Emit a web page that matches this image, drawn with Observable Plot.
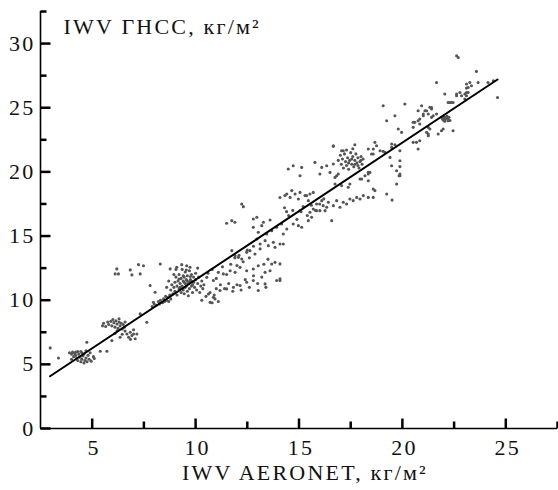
<!DOCTYPE html>
<html><head><meta charset="utf-8">
<script src="https://cdn.jsdelivr.net/npm/d3@7"></script>
<script src="https://cdn.jsdelivr.net/npm/@observablehq/plot@0.6"></script>
<style>body{margin:0;background:#fff} #chart svg{display:block} #chart text{letter-spacing:2.2px}</style>
</head><body><div id="chart"></div><script>
const yTitle = "IWV ГНСС, кг/м²";
const xTitle = "IWV AERONET, кг/м²";
const xMajor = [5, 10, 15, 20, 25];
const xMinor = [7.5, 12.5, 17.5, 22.5, 27.5];
const yMajor = [0, 5, 10, 15, 20, 25, 30];
const yMinor = [2.5, 7.5, 12.5, 17.5, 22.5, 27.5, 32.5];
const fitLine = [[2.96, 4.07], [24.6, 27.2]];

const g1 = [[2.97,6.28],[3.37,5.5],[3.9,5.9],[4.0,5.8],[4.05,5.95],[4.1,5.6],[4.15,5.85],[4.2,5.7],[4.25,5.5],[4.3,6.0],[4.3,5.3],[4.35,5.8],[4.4,5.55],[4.45,5.2],[4.5,5.9],[4.5,5.4],[4.55,5.65],[4.6,5.1],[4.6,5.8],[4.65,5.3],[4.7,5.5],[4.7,6.05],[4.75,5.2],[4.8,5.7],[4.85,5.4],[4.9,5.9],[4.95,5.25],[5.06,5.6],[5.1,5.45],[4.0,5.4],[4.74,6.72],[5.39,6.02],[5.71,6.02],[4.45,6.0],[4.2,5.95]];

const g2 = [[5.5,8.0],[5.55,8.2],[5.65,7.95],[5.75,8.3],[5.8,8.1],[5.9,8.35],[5.95,8.0],[6.05,8.25],[6.1,7.9],[6.15,8.4],[6.2,8.15],[6.25,7.8],[6.3,8.3],[6.35,8.0],[6.4,8.2],[6.45,7.75],[6.5,8.1],[6.55,7.9],[6.59,8.3],[6.0,8.5],[6.3,8.55],
[5.95,6.85],[6.35,7.11],[6.1,7.4],[6.2,7.6],[6.45,7.35],[6.59,7.6],[6.68,7.37],[6.84,7.5],[6.92,7.24],[7.0,7.37],[7.16,7.37],[6.76,7.11],[7.08,6.99],[6.85,6.95],[7.0,7.7],[7.32,8.93],[7.64,8.28],[7.96,9.84],
[6.19,12.44],[6.11,12.05],[6.27,12.05],[6.84,12.36],[6.92,11.97],[7.24,12.77],[7.48,12.69],[7.32,12.05],[8.29,12.82],[8.77,12.44],[7.80,11.14],[8.04,10.62]];

const g3 = [[7.9,9.5],[8.0,9.7],[8.1,9.6],[8.2,9.9],[8.25,9.7],[8.3,10.0],[8.4,9.8],[8.45,10.1],[8.5,9.9],[8.55,10.3],[8.6,10.0],[8.65,10.2],[8.7,9.9],[8.75,10.4],[8.8,10.1],
[8.8,10.8],[8.85,11.2],[8.9,10.5],[8.95,11.0],[9.0,11.4],[9.0,10.7],[9.05,11.8],[9.1,11.1],[9.1,10.4],[9.15,11.5],[9.2,10.9],[9.2,12.0],[9.25,11.3],[9.3,10.6],[9.3,11.7],[9.35,11.1],[9.4,11.9],[9.4,10.8],[9.45,11.4],[9.5,12.2],[9.5,11.0],[9.55,11.6],[9.6,10.7],[9.6,11.9],[9.65,11.3],[9.7,12.3],[9.7,10.9],[9.75,11.6],[9.8,11.1],[9.8,12.0],[9.85,10.6],[9.9,11.4],[9.9,11.8],[9.95,11.0],[10.0,11.6],[10.0,12.1],[10.05,10.8],[10.1,11.3],[10.15,11.8],[10.2,10.6],[10.25,11.1],[10.3,11.5],[10.35,10.9],[10.4,11.2],[9.2,11.65],[9.45,10.5],[9.55,12.35],[9.65,10.35],[9.35,12.4],[8.7,11.5],[8.6,11.0],[8.95,12.0],[9.05,12.4],[10.1,12.5],[9.09,12.57],[9.33,12.77],[9.57,12.69],[9.73,12.57],
[9.4,11.5],[9.5,11.3],[9.6,11.5],[9.7,11.4],[9.8,11.5],[9.55,11.1],[9.45,11.8],[9.75,11.85],[9.25,11.0],[9.85,11.2]];

const g4 = [[12.23,17.5],[12.31,17.29],[11.5,16.0],[11.75,16.2],[11.9,16.07],
[12.79,16.33],[12.96,16.46],[13.28,16.07],[13.6,16.25],
[12.79,15.68],[13.03,15.29],[13.2,15.81],[13.44,15.16],[13.68,15.42],[13.92,15.68],
[12.96,14.77],[13.12,14.38],[13.36,14.64],[13.52,14.25],[13.76,14.51],[13.84,14.12],[14.08,14.38],[14.24,15.16],[14.41,15.55],
[11.75,13.86],[11.91,13.47],[12.07,13.34],[12.23,13.21],[12.47,13.73],[12.63,13.86],[12.87,13.6],[13.12,14.0],
[10.54,11.78],[10.86,11.53],[11.1,12.17],[11.34,12.05],[11.67,12.3],[11.91,12.17],[12.15,12.56],[12.47,12.3],[12.79,12.43],[13.03,12.69],[13.36,12.17],[13.6,12.3],[13.68,12.82],[13.84,12.95],[13.92,11.53],[14.08,11.66],
[10.62,10.48],[10.86,10.22],[11.18,10.75],[11.5,10.88],[11.83,11.0],[12.15,11.14],[12.47,11.4],[12.79,11.53],[13.03,10.75],[13.36,11.27],[10.7,9.83],[10.94,10.1],
[10.3,10.0],[10.5,10.3],[10.7,10.6],[10.9,10.4],[11.0,10.9],[11.2,11.2],[11.4,10.9],[11.6,11.3],[11.8,10.7],[12.0,11.2],[12.2,10.8],[12.4,11.6],[12.6,11.0],[12.8,11.9],[13.0,11.3],[13.2,11.8],[13.4,11.0],[11.1,9.9],[10.8,9.8],
[10.6,12.1],[10.8,12.4],[11.0,11.7],[11.3,12.6],[11.5,12.0],[11.7,12.8],[11.9,13.3],[12.0,12.7],[12.1,13.5],[12.3,13.0],[12.5,13.9],[12.6,13.3],[12.8,14.2],
[14.08,12.83],[14.08,11.53],[13.5,13.2],[13.3,12.8],[14.16,15.94],[14.24,14.38]];

const g5 = [[14.41,18.28],[14.65,18.54],[14.81,18.28],[15.05,18.4],[15.29,18.15],[15.53,18.28],[15.69,18.4],[14.57,18.01],[14.97,17.89],[15.45,17.76],[14.08,18.0],[14.32,18.15],[15.37,18.15],
[14.48,20.23],[14.72,20.48],[15.13,20.35],[15.77,20.74],[16.01,19.84],[16.1,20.35],[16.34,20.48],[16.66,20.61],[16.5,19.96],[16.74,19.57],[16.9,19.84],[15.05,19.7],
[16.66,22.04],[17.7,22.12],[17.06,21.65],[16.66,21.99],[17.14,21.65],
[15.69,17.11],[15.85,17.5],[16.01,16.98],[16.17,17.37],[16.34,17.24],[16.42,17.63],[16.66,17.37],[16.82,17.76],[16.98,17.24],[17.14,17.63],[17.3,17.5],[17.46,17.89],[17.62,17.76],[17.79,18.01],[17.95,17.89],[18.11,18.15],[16.1,17.76],[16.26,16.98],
[16.74,19.06],[16.82,19.7],[17.06,18.93],[17.38,18.8],[17.46,19.06],[17.95,19.45],[18.19,19.7],[18.35,19.96],[18.35,19.84],[18.03,19.45],[18.35,19.31],
[15.05,16.98],[15.53,16.85],[15.61,16.46],[15.45,16.2],[15.85,16.98],[14.72,15.94],[14.97,15.81],[15.13,15.68],[16.58,16.2],
[14.5,16.6],[14.7,17.0],[14.9,16.3],[15.1,16.9],[15.2,17.3],[15.4,16.6],[15.6,17.4],[15.8,17.0],[16.0,17.5],[16.2,17.9],[14.4,16.9],[14.3,17.2],
[16.9,20.9],[17.0,21.3],[17.05,20.6],[17.1,21.0],[17.15,20.3],[17.2,21.4],[17.25,20.8],[17.3,20.5],[17.35,21.1],[17.4,20.2],[17.45,20.9],[17.5,21.5],[17.55,20.6],[17.6,21.2],[17.65,20.4],[17.7,20.9],[17.75,21.4],[17.8,20.7],[17.85,21.1],[17.9,20.3],[17.95,20.8],[18.0,21.2],[18.05,20.6],[18.1,21.0],[17.6,21.8],[17.3,21.7],[17.4,20.7],[17.55,21.0],[17.7,20.6],[17.85,20.5],[18.0,20.9]];

const g6 = [[18.67,22.3],[18.75,22.04],[18.59,21.78],[18.92,21.65],[19.07,21.6],[19.16,21.52],[19.48,22.17],[19.88,21.65],[18.51,21.39],[18.59,21.39],[18.35,21.78],[19.64,22.12],[19.48,21.91],
[19.4,21.13],[19.88,20.87],[19.48,20.48],[19.88,20.41],[19.72,20.09],[19.88,19.84],[18.43,19.96],[19.88,19.7],[19.72,19.06],[19.84,19.7],
[18.59,18.67],[18.59,18.01],[19.24,18.28],[18.67,18.54],[18.35,18.01],[19.5,17.8],
[19.07,25.16],[20.12,25.29],[20.93,25.16],[21.41,25.02],[21.09,24.77],[20.76,24.77],[21.25,24.51],[21.01,24.38],[21.49,24.38],[21.65,24.51],[21.41,24.25],[21.89,24.25],[22.05,24.12],[22.13,24.25],[22.21,23.99],[21.33,25.03],[21.17,24.77],[21.41,24.9],[21.01,24.51],
[21.95,24.1],[22.0,24.3],[22.05,23.95],[22.1,24.2],[22.15,24.35],[22.2,24.1],[22.25,24.25],[22.3,24.0],[22.0,24.0],
[22.05,26.07],[22.62,26.07],[22.78,26.19],[23.1,26.19],[22.29,25.41],[22.45,25.41],[23.02,25.68],[22.21,25.41],[22.37,25.41],[22.62,25.93],[22.86,25.93],[23.02,26.07],[23.18,26.19],[23.1,25.93],
[19.64,24.38],[19.24,23.99],[20.6,23.86],[20.76,23.99],[20.52,23.47],[20.84,23.73],[20.52,23.86],[20.84,24.12],[19.8,23.34],[19.96,23.08],
[21.25,23.47],[21.17,23.08],[21.25,22.95],[21.33,23.34],[21.73,22.95],[21.89,23.21],[22.45,23.21],[21.97,23.34],[21.25,22.82],
[20.52,22.3],[20.84,22.43],[20.76,21.78],[20.68,22.3],
[21.65,26.97],
[23.1,26.85],[23.18,26.58],[23.26,26.97],[23.34,26.71],[23.1,26.53],[23.58,27.83],[23.66,26.97],[24.14,26.97],[24.4,27.1],[24.6,25.8],[22.62,29.05],[22.7,28.92]];

const points = [...g1, ...g2, ...g3, ...g4, ...g5, ...g6];

const font = "Liberation Serif, Times New Roman, serif";
const axisStroke = {stroke: "#000", strokeWidth: 1.6};
const txt = {fill: "#111", fontSize: 22};
const upTick = len => ({draw(ctx) { ctx.moveTo(0, 0); ctx.lineTo(0, -len); }});
const rightTick = len => ({draw(ctx) { ctx.moveTo(0, 0); ctx.lineTo(len, 0); }});

const chart = Plot.plot({
  width: 558, height: 490,
  marginLeft: 40, marginRight: 1, marginTop: 11, marginBottom: 62,
  style: {fontFamily: font, background: "#fff"},
  x: {domain: [2.5, 27.5], axis: null},
  y: {domain: [0, 32.5], axis: null},
  marks: [
    Plot.dot(points, {x: d => d[0], y: d => d[1], r: 1.55, fill: "#555", stroke: "none"}),
    Plot.line(fitLine, {x: d => d[0], y: d => d[1], stroke: "#000", strokeWidth: 2}),
    Plot.ruleY([0], axisStroke),
    Plot.ruleX([2.5], axisStroke),
    Plot.dot(xMajor, {x: d => d, y: 0, symbol: upTick(10), stroke: "black", strokeWidth: 2.5, fill: "none", r: 3}),
    Plot.dot(xMinor, {x: d => d, y: 0, symbol: upTick(7), stroke: "black", strokeWidth: 2.5, fill: "none", r: 3}),
    Plot.dot(yMajor, {x: 2.5, y: d => d, symbol: rightTick(10), stroke: "black", strokeWidth: 2.5, fill: "none", r: 3}),
    Plot.dot(yMinor, {x: 2.5, y: d => d, symbol: rightTick(6), stroke: "black", strokeWidth: 2.5, fill: "none", r: 3}),
    Plot.text(xMajor, {x: d => d, y: 0, text: d => String(d), dy: 19, dx: 2, ...txt}),
    Plot.text(yMajor, {x: 2.5, y: d => d, text: d => String(d), dx: -5, textAnchor: "end", ...txt}),
    Plot.text([yTitle], {frameAnchor: "top-left", lineAnchor: "middle", text: d => d, dx: 23, dy: 15, textAnchor: "start", ...txt}),
    Plot.text([xTitle], {frameAnchor: "bottom", lineAnchor: "middle", text: d => d, dx: 6, dy: 44, ...txt})
  ]
});
document.getElementById("chart").appendChild(chart);
</script></body></html>
